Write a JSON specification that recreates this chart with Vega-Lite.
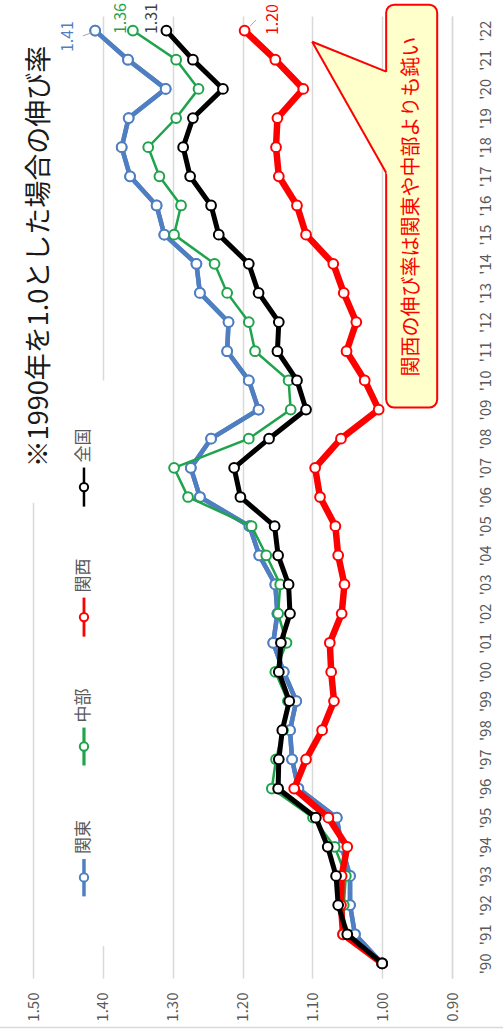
{
  "$schema": "https://vega.github.io/schema/vega-lite/v6.json",
  "width": 419,
  "height": 962,
  "autosize": "none",
  "padding": {"left": 33, "top": 16, "right": 51, "bottom": 54},
  "background": "white",
  "config": {
    "view": {"stroke": null},
    "font": "Noto Sans CJK JP",
    "axis": {"labelOverlap": false, "labelFlush": false},
    "axisX": {"labelOverlap": false, "labelFlush": false},
    "axisY": {"labelOverlap": false, "labelFlush": false, "tickCount": 40}
  },
  "datasets": {
    "growth": [
      {"year": 1990, "kanto": 1.000, "chubu": 1.000, "kansai": 1.000, "zenkoku": 1.000},
      {"year": 1991, "kanto": 1.039, "chubu": 1.056, "kansai": 1.056, "zenkoku": 1.050},
      {"year": 1992, "kanto": 1.046, "chubu": 1.055, "kansai": 1.059, "zenkoku": 1.063},
      {"year": 1993, "kanto": 1.046, "chubu": 1.052, "kansai": 1.058, "zenkoku": 1.066},
      {"year": 1994, "kanto": 1.058, "chubu": 1.068, "kansai": 1.050, "zenkoku": 1.078},
      {"year": 1995, "kanto": 1.065, "chubu": 1.099, "kansai": 1.077, "zenkoku": 1.095},
      {"year": 1996, "kanto": 1.120, "chubu": 1.158, "kansai": 1.126, "zenkoku": 1.149},
      {"year": 1997, "kanto": 1.129, "chubu": 1.152, "kansai": 1.109, "zenkoku": 1.148},
      {"year": 1998, "kanto": 1.132, "chubu": 1.142, "kansai": 1.086, "zenkoku": 1.143},
      {"year": 1999, "kanto": 1.123, "chubu": 1.135, "kansai": 1.069, "zenkoku": 1.133},
      {"year": 2000, "kanto": 1.141, "chubu": 1.153, "kansai": 1.073, "zenkoku": 1.148},
      {"year": 2001, "kanto": 1.156, "chubu": 1.137, "kansai": 1.075, "zenkoku": 1.145},
      {"year": 2002, "kanto": 1.150, "chubu": 1.149, "kansai": 1.058, "zenkoku": 1.132},
      {"year": 2003, "kanto": 1.153, "chubu": 1.146, "kansai": 1.054, "zenkoku": 1.134},
      {"year": 2004, "kanto": 1.176, "chubu": 1.166, "kansai": 1.063, "zenkoku": 1.149},
      {"year": 2005, "kanto": 1.190, "chubu": 1.187, "kansai": 1.067, "zenkoku": 1.154},
      {"year": 2006, "kanto": 1.261, "chubu": 1.278, "kansai": 1.089, "zenkoku": 1.203},
      {"year": 2007, "kanto": 1.274, "chubu": 1.298, "kansai": 1.096, "zenkoku": 1.212},
      {"year": 2008, "kanto": 1.245, "chubu": 1.191, "kansai": 1.059, "zenkoku": 1.162},
      {"year": 2009, "kanto": 1.177, "chubu": 1.131, "kansai": 1.005, "zenkoku": 1.109},
      {"year": 2010, "kanto": 1.191, "chubu": 1.134, "kansai": 1.025, "zenkoku": 1.122},
      {"year": 2011, "kanto": 1.222, "chubu": 1.182, "kansai": 1.051, "zenkoku": 1.150},
      {"year": 2012, "kanto": 1.220, "chubu": 1.191, "kansai": 1.037, "zenkoku": 1.148},
      {"year": 2013, "kanto": 1.261, "chubu": 1.222, "kansai": 1.055, "zenkoku": 1.177},
      {"year": 2014, "kanto": 1.266, "chubu": 1.240, "kansai": 1.070, "zenkoku": 1.191},
      {"year": 2015, "kanto": 1.312, "chubu": 1.298, "kansai": 1.109, "zenkoku": 1.234},
      {"year": 2016, "kanto": 1.323, "chubu": 1.288, "kansai": 1.122, "zenkoku": 1.245},
      {"year": 2017, "kanto": 1.361, "chubu": 1.319, "kansai": 1.148, "zenkoku": 1.275},
      {"year": 2018, "kanto": 1.373, "chubu": 1.335, "kansai": 1.152, "zenkoku": 1.285},
      {"year": 2019, "kanto": 1.363, "chubu": 1.295, "kansai": 1.150, "zenkoku": 1.271},
      {"year": 2020, "kanto": 1.310, "chubu": 1.263, "kansai": 1.113, "zenkoku": 1.228},
      {"year": 2021, "kanto": 1.364, "chubu": 1.295, "kansai": 1.153, "zenkoku": 1.271},
      {"year": 2022, "kanto": 1.411, "chubu": 1.357, "kansai": 1.197, "zenkoku": 1.309}
    ],
    "legend": [
      {"name": "全国", "top": 2007.01, "bottom": 2005.67, "mid": 2006.34},
      {"name": "関西", "top": 2002.55, "bottom": 2001.21, "mid": 2001.88},
      {"name": "中部", "top": 1998.09, "bottom": 1996.79, "mid": 1997.44},
      {"name": "関東", "top": 1993.58, "bottom": 1992.30, "mid": 1992.95}
    ],
    "pointer": [
      {"v": 1.10029, "a": 2021.618, "b": 2021.618},
      {"v": 0.98997, "a": 2020.549, "b": 2016.944}
    ],
    "edges": [
      {"v1": 1.10029, "ya": 2021.618, "v2": 0.99427, "yb": 2020.590},
      {"v1": 1.10029, "ya": 2021.618, "v2": 0.99427, "yb": 2017.126}
    ],
    "leaders": [
      {"v1": 1.4288, "ya": 2021.814, "v2": 1.4159, "yb": 2021.927},
      {"v1": 1.1891, "ya": 2022.157, "v2": 1.1805, "yb": 2022.363}
    ]
  },
  "data": {"name": "growth"},
  "layer": [
    {
      "transform": [{"fold": ["kanto"], "as": ["region", "value"]}],
      "mark": {"type": "line", "color": "#4f7fc1", "strokeWidth": 4.5, "point": {"filled": true, "fill": "#ffffff", "stroke": "#4f7fc1", "strokeWidth": 2, "size": 95}},
      "encoding": {
        "x": {"field": "value", "type": "quantitative", "scale": {"domain": [0.9, 1.5], "reverse": true, "nice": false, "zero": false},
          "axis": {"title": null, "orient": "bottom", "values": [0.9, 1.0, 1.1, 1.2, 1.3, 1.4, 1.5], "format": ".2f", "grid": true, "gridColor": "#d9d9d9", "gridWidth": 1.5, "ticks": false, "domain": false, "labelAngle": 270, "labelAlign": "right", "labelBaseline": "middle", "labelPadding": 14, "labelFontSize": 15, "labelColor": "#595959", "labelFlush": false, "labelOverlap": false}},
        "y": {"field": "year", "type": "quantitative", "scale": {"domain": [1989.5, 2022.5], "nice": false, "zero": false},
          "axis": {"title": null, "orient": "right", "values": [1990, 1991, 1992, 1993, 1994, 1995, 1996, 1997, 1998, 1999, 2000, 2001, 2002, 2003, 2004, 2005, 2006, 2007, 2008, 2009, 2010, 2011, 2012, 2013, 2014, 2015, 2016, 2017, 2018, 2019, 2020, 2021, 2022], "tickCount": 40, "labelExpr": "\"'\" + substring(format(datum.value, 'd'), 2)", "grid": false, "ticks": false, "domain": true, "domainColor": "#d9d9d9", "domainWidth": 1.5, "labelAngle": 270, "labelAlign": "center", "labelBaseline": "top", "labelPadding": 26, "labelFontSize": 15, "labelColor": "#595959", "labelFlush": false, "labelOverlap": false}},
        "order": {"field": "year", "type": "quantitative"}
      }
    },
    {
      "data": {"values": [{}]},
      "mark": {"type": "rect", "fill": "#ffffff"},
      "encoding": {
        "x": {"datum": 1.53, "type": "quantitative"},
        "x2": {"datum": 1.47},
        "y": {"datum": 2022.5, "type": "quantitative"},
        "y2": {"datum": 2005.8}
      }
    },
    {
      "data": {"values": [{}]},
      "mark": {"type": "rect", "fill": "#ffffff"},
      "encoding": {
        "x": {"datum": 1.458, "type": "quantitative"},
        "x2": {"datum": 1.393},
        "y": {"datum": 2010.0, "type": "quantitative"},
        "y2": {"datum": 1990.6}
      }
    },
    {
      "transform": [{"fold": ["kanto"], "as": ["region", "value"]}],
      "mark": {"type": "line", "color": "#4f7fc1", "strokeWidth": 4.5, "point": {"filled": true, "fill": "#ffffff", "stroke": "#4f7fc1", "strokeWidth": 2, "size": 95}},
      "encoding": {
        "x": {"field": "value", "type": "quantitative"},
        "y": {"field": "year", "type": "quantitative"},
        "order": {"field": "year", "type": "quantitative"}
      }
    },
    {
      "transform": [{"fold": ["chubu"], "as": ["region", "value"]}],
      "mark": {"type": "line", "color": "#1fa34c", "strokeWidth": 2.5, "point": {"filled": true, "fill": "#ffffff", "stroke": "#1fa34c", "strokeWidth": 2, "size": 95}},
      "encoding": {
        "x": {"field": "value", "type": "quantitative"},
        "y": {"field": "year", "type": "quantitative"},
        "order": {"field": "year", "type": "quantitative"}
      }
    },
    {
      "transform": [{"fold": ["kansai"], "as": ["region", "value"]}],
      "mark": {"type": "line", "color": "#ff0000", "strokeWidth": 6.5, "point": {"filled": true, "fill": "#ffffff", "stroke": "#ff0000", "strokeWidth": 2, "size": 95}},
      "encoding": {
        "x": {"field": "value", "type": "quantitative"},
        "y": {"field": "year", "type": "quantitative"},
        "order": {"field": "year", "type": "quantitative"}
      }
    },
    {
      "transform": [{"fold": ["zenkoku"], "as": ["region", "value"]}],
      "mark": {"type": "line", "color": "#000000", "strokeWidth": 5, "point": {"filled": true, "fill": "#ffffff", "stroke": "#000000", "strokeWidth": 2, "size": 95}},
      "encoding": {
        "x": {"field": "value", "type": "quantitative"},
        "y": {"field": "year", "type": "quantitative"},
        "order": {"field": "year", "type": "quantitative"}
      }
    },
    {
      "data": {"name": "leaders"},
      "mark": {"type": "rule", "color": "#a6a6a6", "strokeWidth": 1},
      "encoding": {
        "x": {"field": "v1", "type": "quantitative"},
        "x2": {"field": "v2"},
        "y": {"field": "ya", "type": "quantitative"},
        "y2": {"field": "yb"}
      }
    },
    {
      "transform": [{"filter": "datum.year == 2022"}, {"fold": ["kanto"], "as": ["region", "value"]}],
      "mark": {"type": "text", "angle": 270, "align": "center", "baseline": "middle", "dx": -6, "dy": -27, "fontSize": 16, "color": "#4f7fc1"},
      "encoding": {
        "x": {"field": "value", "type": "quantitative"},
        "y": {"field": "year", "type": "quantitative"},
        "text": {"field": "value", "type": "quantitative", "format": ".2f"}
      }
    },
    {
      "transform": [{"filter": "datum.year == 2022"}, {"fold": ["chubu"], "as": ["region", "value"]}],
      "mark": {"type": "text", "angle": 270, "align": "center", "baseline": "middle", "dx": 12, "dy": -12, "fontSize": 16, "color": "#1fa34c"},
      "encoding": {
        "x": {"field": "value", "type": "quantitative"},
        "y": {"field": "year", "type": "quantitative"},
        "text": {"field": "value", "type": "quantitative", "format": ".2f"}
      }
    },
    {
      "transform": [{"filter": "datum.year == 2022"}, {"fold": ["zenkoku"], "as": ["region", "value"]}],
      "mark": {"type": "text", "angle": 270, "align": "center", "baseline": "middle", "dx": 12, "dy": -14, "fontSize": 16, "color": "#404040"},
      "encoding": {
        "x": {"field": "value", "type": "quantitative"},
        "y": {"field": "year", "type": "quantitative"},
        "text": {"field": "value", "type": "quantitative", "format": ".2f"}
      }
    },
    {
      "transform": [{"filter": "datum.year == 2022"}, {"fold": ["kansai"], "as": ["region", "value"]}],
      "mark": {"type": "text", "angle": 270, "align": "center", "baseline": "middle", "dx": 11, "dy": 28, "fontSize": 16, "color": "#ff0000"},
      "encoding": {
        "x": {"field": "value", "type": "quantitative"},
        "y": {"field": "year", "type": "quantitative"},
        "text": {"field": "value", "type": "quantitative", "format": ".2f"}
      }
    },
    {
      "data": {"name": "legend"},
      "mark": {"type": "rule"},
      "encoding": {
        "x": {"datum": 1.427, "type": "quantitative"},
        "y": {"field": "top", "type": "quantitative"},
        "y2": {"field": "bottom"},
        "color": {"field": "name", "type": "nominal", "scale": {"domain": ["関東", "中部", "関西", "全国"], "range": ["#4f7fc1", "#1fa34c", "#ff0000", "#000000"]}, "legend": null},
        "strokeWidth": {"field": "name", "type": "ordinal", "scale": {"domain": ["関東", "中部", "関西", "全国"], "range": [3.5, 2.5, 5, 4.5]}, "legend": null}
      }
    },
    {
      "data": {"name": "legend"},
      "mark": {"type": "point", "filled": true, "fill": "#ffffff", "strokeWidth": 2, "size": 70, "opacity": 1},
      "encoding": {
        "x": {"datum": 1.427, "type": "quantitative"},
        "y": {"field": "mid", "type": "quantitative"},
        "stroke": {"field": "name", "type": "nominal", "scale": {"domain": ["関東", "中部", "関西", "全国"], "range": ["#4f7fc1", "#1fa34c", "#ff0000", "#000000"]}, "legend": null}
      }
    },
    {
      "data": {"name": "legend"},
      "mark": {"type": "text", "angle": 270, "align": "left", "baseline": "middle", "dx": 5, "fontSize": 17, "color": "#595959"},
      "encoding": {
        "x": {"datum": 1.427, "type": "quantitative"},
        "y": {"field": "top", "type": "quantitative"},
        "text": {"field": "name", "type": "nominal"}
      }
    },
    {
      "data": {"values": [{}]},
      "mark": {"type": "rect", "fill": "#ffffcc", "stroke": "#ff0000", "strokeWidth": 2, "cornerRadius": 8},
      "encoding": {
        "x": {"datum": 0.99427, "type": "quantitative"},
        "x2": {"datum": 0.9212},
        "y": {"datum": 2022.888, "type": "quantitative"},
        "y2": {"datum": 2009.067}
      }
    },
    {
      "data": {"name": "pointer"},
      "mark": {"type": "area", "orient": "vertical", "fill": "#ffffcc", "opacity": 1},
      "encoding": {
        "x": {"field": "v", "type": "quantitative"},
        "y": {"field": "a", "type": "quantitative"},
        "y2": {"field": "b"}
      }
    },
    {
      "data": {"name": "edges"},
      "mark": {"type": "rule", "color": "#ff0000", "strokeWidth": 2},
      "encoding": {
        "x": {"field": "v1", "type": "quantitative"},
        "x2": {"field": "v2"},
        "y": {"field": "ya", "type": "quantitative"},
        "y2": {"field": "yb"}
      }
    },
    {
      "data": {"values": [{}]},
      "mark": {"type": "text", "text": "関西の伸び率は関東や中部よりも鈍い", "angle": 270, "align": "center", "baseline": "middle", "fontSize": 20, "color": "#ff0000"},
      "encoding": {
        "x": {"datum": 0.957, "type": "quantitative"},
        "y": {"datum": 2015.96, "type": "quantitative"}
      }
    },
    {
      "data": {"values": [{}]},
      "mark": {"type": "text", "text": "※1990年を1.0とした場合の伸び率", "angle": 270, "align": "center", "baseline": "middle", "fontSize": 27, "color": "#1a1a1a"},
      "encoding": {
        "x": {"datum": 1.49, "type": "quantitative"},
        "y": {"datum": 2014.25, "type": "quantitative"}
      }
    },
    {
      "data": {"values": [{}]},
      "mark": {"type": "rule", "color": "#d9d9d9", "strokeWidth": 1.5},
      "encoding": {
        "x": {"datum": 1.55, "type": "quantitative"},
        "x2": {"datum": 0.82},
        "y": {"datum": 1987.805, "type": "quantitative"}
      }
    }
  ]
}
